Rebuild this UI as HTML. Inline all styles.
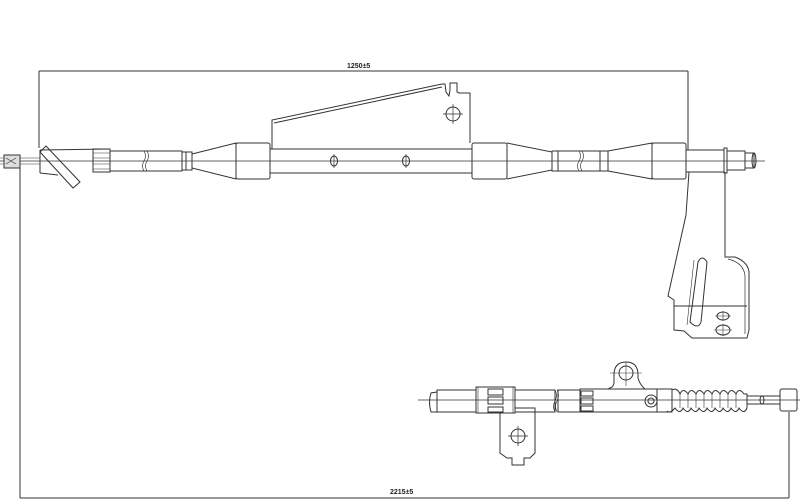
<!DOCTYPE html>
<html><head><style>
html,body{margin:0;padding:0;background:#fff;}
svg{display:block;}
text{font-family:"Liberation Sans",sans-serif;font-size:7px;font-weight:bold;fill:#222;}
</style></head><body>
<svg width="800" height="502" viewBox="0 0 800 502" fill="none" stroke="#333" stroke-width="1">
<!-- dimensions -->
<line x1="39" y1="71" x2="688" y2="71"/>
<line x1="39" y1="71" x2="39" y2="148"/>
<line x1="688" y1="71" x2="688" y2="150"/>
<text x="347" y="68" stroke="none">1250±5</text>
<line x1="20" y1="498" x2="789" y2="498" stroke="#777" stroke-width="1.5"/>
<line x1="20" y1="168" x2="20" y2="498"/>
<line x1="789" y1="412" x2="789" y2="498"/>
<text x="390" y="494" stroke="none">2215±5</text>

<!-- TOP CABLE -->
<line x1="0" y1="161" x2="765" y2="161" stroke-width="0.7"/>
<line x1="0" y1="158" x2="40" y2="158" stroke-width="0.6"/>
<line x1="0" y1="164" x2="40" y2="164" stroke-width="0.6"/>
<rect x="4" y="155" width="16" height="13" fill="#ddd"/>
<path d="M6 158 l10 6 M6 164 l10 -6" stroke-width="0.6"/>
<!-- angled boot -->
<path d="M40 150 L110 149 M40 173 L58 175"/>
<path d="M40 150 L40 173"/>
<polygon points="40,152 46,146 80,182 73,188"/>
<rect x="93" y="149" width="17" height="23"/>
<path d="M93 153h17M93 158h17M93 164h17M93 169h17" stroke-width="0.6"/>
<rect x="110" y="151" width="72" height="20"/>
<path d="M144 151 q3 5 0 10 q-3 5 0 10 M147 151 q3 5 0 10 q-3 5 0 10" stroke-width="0.7"/>
<rect x="182" y="152" width="4" height="18"/>
<rect x="186" y="152" width="6" height="18"/>
<path d="M192 154 L236 143 L236 179 L192 168 Z"/>
<rect x="236" y="143" width="34" height="36" rx="2"/>
<rect x="270" y="149" width="202" height="24"/>
<!-- top bracket -->
<path d="M272 149 L272 120 L442 84 L445 84 L446 92 L449 96 L450 90 L450 83 L457 83 L457 92 L459 93 L470 93 L470 143"/>
<path d="M274 123 L442 87"/>
<circle cx="453" cy="114" r="7"/>
<path d="M453 104v20M443 114h20" stroke-width="0.7"/>
<ellipse cx="334" cy="161" rx="3.5" ry="5"/>
<line x1="334" y1="154" x2="334" y2="168" stroke-width="0.7"/>
<ellipse cx="406" cy="161" rx="3.5" ry="5"/>
<line x1="406" y1="154" x2="406" y2="168" stroke-width="0.7"/>
<rect x="472" y="143" width="35" height="36" rx="2"/>
<path d="M507 143 L552 152 L552 170 L507 179"/>
<rect x="552" y="151" width="6" height="20"/>
<rect x="558" y="151" width="42" height="20"/>
<path d="M579 151 q3 5 0 10 q-3 5 0 10 M582 151 q3 5 0 10 q-3 5 0 10" stroke-width="0.7"/>
<rect x="600" y="151" width="8" height="20"/>
<path d="M608 151 L652 143 L652 179 L608 171"/>
<rect x="652" y="143" width="34" height="36" rx="2"/>
<rect x="686" y="150" width="38" height="22"/>
<rect x="724" y="148" width="3" height="25"/>
<rect x="727" y="151" width="18" height="19"/>
<path d="M745 153 L754 153 L754 168 L745 168"/>
<ellipse cx="754" cy="160.5" rx="2" ry="7.5"/>
<!-- lower bracket -->
<path d="M689 172 L686 215 L668 296 L674 300 L674 330 L684 331 L692 338 L747 338 L749 330 L749 272 Q748 262 735 257 L725 257 L725 172"/>
<path d="M728 259 Q744 263 745 276 L745 334" stroke-width="0.7"/>
<line x1="674" y1="306" x2="747" y2="306"/>
<path d="M690 322 L698 262 Q702 254 707 262 L701 322 Q698 330 690 322 Z"/>
<path d="M694 260 L687 325" stroke-width="0.6"/>
<ellipse cx="723" cy="316" rx="6" ry="4"/>
<path d="M715 316h16M723 311v10" stroke-width="0.6"/>
<ellipse cx="723" cy="330" rx="7" ry="5"/>
<path d="M714 330h18M723 324v12" stroke-width="0.6"/>

<!-- BOTTOM CABLE -->
<line x1="418" y1="400" x2="800" y2="400" stroke-width="0.7"/>
<path d="M431 393 q-3 9 0 19 L437 412 L437 392 Z"/>
<rect x="437" y="390" width="39" height="22"/>
<rect x="476" y="387" width="39" height="26"/>
<path d="M478 387v26M513 387v26" stroke-width="0.6"/>
<rect x="488" y="389" width="15" height="6"/><rect x="488" y="397" width="15" height="7"/><rect x="488" y="407" width="15" height="5"/>
<rect x="515" y="390" width="40" height="22"/>
<path d="M555 390 q3 5 0 11 q-3 5 0 11 M557 390 q3 5 0 11 q-3 5 0 11" stroke-width="0.7"/>
<rect x="558" y="390" width="22" height="22"/>
<rect x="580" y="389" width="77" height="23"/>
<rect x="581" y="391" width="12" height="5"/><rect x="581" y="398" width="12" height="6"/><rect x="581" y="406" width="12" height="5"/>
<path d="M608 389 L612 387 Q614 385 614 382 L614 375 Q614 362 626 362 Q638 362 638 375 L638 378 Q640 385 645 389"/>
<circle cx="626" cy="373" r="7"/>
<path d="M610 373h32M626 362v24" stroke-width="0.6"/>
<circle cx="651" cy="401" r="6"/><circle cx="651" cy="401" r="3"/>
<path d="M657 389 L672 389 L672 412 L657 412"/>
<path d="M672 390 q5 -3 8 4 q3 -7 8 0 q3 -7 8 0 q3 -7 8 0 q3 -7 8 0 q3 -7 8 0 q3 -7 8 0 q3 -7 8 0 q3 -7 8 0 L747 394 L747 408 q-3 7 -8 0 q-3 7 -8 0 q-3 7 -8 0 q-3 7 -8 0 q-3 7 -8 0 q-3 7 -8 0 q-3 7 -8 0 q-3 7 -8 0 q-3 7 -8 0 q-5 6 -8 3"/>
<path d="M680 394v14M688 394v14M696 394v14M704 394v14M712 394v14M720 394v14M728 394v14M736 394v14" stroke-width="0.6"/>
<path d="M747 396 L780 396 M747 404 L780 404"/>
<ellipse cx="762" cy="400" rx="2" ry="4"/>
<rect x="780" y="389" width="17" height="22" rx="2"/>
<!-- bottom bracket -->
<path d="M500 412 L500 453 L507 458 L512 458 L512 465 L524 465 L524 458 L530 458 L535 453 L535 408 L515 408"/>
<circle cx="518" cy="436" r="7"/>
<path d="M518 426v20M508 436h20" stroke-width="0.7"/>
</svg>
</body></html>
